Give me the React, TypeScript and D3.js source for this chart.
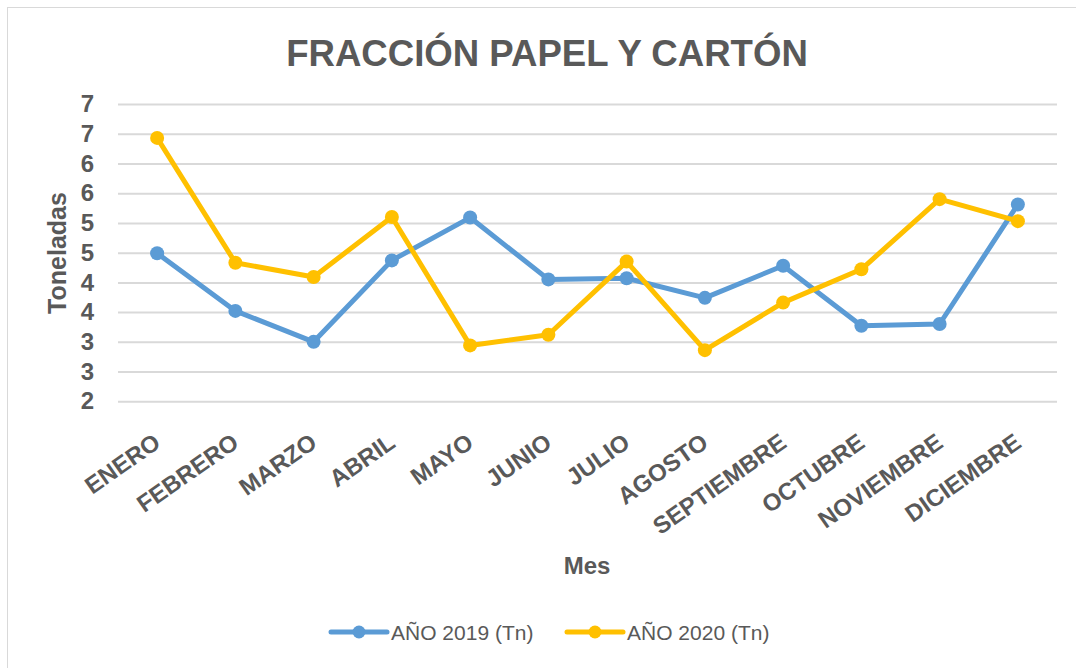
import React, { useEffect, useRef } from 'react';
import * as d3 from 'd3';

const months = ['ENERO', 'FEBRERO', 'MARZO', 'ABRIL', 'MAYO', 'JUNIO', 'JULIO', 'AGOSTO', 'SEPTIEMBRE', 'OCTUBRE', 'NOVIEMBRE', 'DICIEMBRE'];
const values2019 = [4.49, 3.52, 3.0, 4.37, 5.09, 4.05, 4.07, 3.74, 4.28, 3.27, 3.3, 5.31];
const values2020 = [6.43, 4.33, 4.09, 5.1, 2.94, 3.12, 4.35, 2.86, 3.66, 4.22, 5.4, 5.03];
const yTicks = [2, 2.5, 3, 3.5, 4, 4.5, 5, 5.5, 6, 6.5, 7];
const yTickLabels = ['2', '3', '3', '4', '4', '5', '5', '6', '6', '7', '7'];
const seriesNames = ['AÑO 2019 (Tn)', 'AÑO 2020 (Tn)'];

const TEXT = '#595959';
const GRID = '#D9D9D9';
const COLORS = ['#5B9BD5', '#FFC000'];
const FONT = '"Liberation Sans", Arial, sans-serif';

const App = () => {
  const ref = useRef<SVGSVGElement | null>(null);

  useEffect(() => {
    if (!ref.current) return;
    const svg = d3.select(ref.current);
    svg.selectAll('*').remove();

    // chart frame (only top/left edges visible in the crop)
    svg.append('rect')
      .attr('x', 7.5).attr('y', 7.5)
      .attr('width', 1200).attr('height', 800)
      .attr('fill', '#fff')
      .attr('stroke', GRID);

    const x = d3.scaleBand().domain(months).range([118, 1057]).padding(0);
    const cx = (m: string) => (x(m) as number) + x.bandwidth() / 2;
    const y = d3.scaleLinear().domain([2, 7]).range([401.3, 104]);

    // title
    svg.append('text')
      .attr('x', 547).attr('y', 66)
      .attr('text-anchor', 'middle')
      .style('font-family', FONT)
      .style('font-size', '36.6px')
      .style('font-weight', 'bold')
      .attr('fill', TEXT)
      .text('FRACCIÓN PAPEL Y CARTÓN');

    // gridlines + y labels
    const yAxis = d3.axisLeft(y)
      .tickValues(yTicks)
      .tickSize(-(1057 - 118))
      .tickPadding(24)
      .tickFormat((d, i) => yTickLabels[i]);
    const ga = svg.append('g').attr('transform', 'translate(118,0)').call(yAxis);
    ga.select('.domain').remove();
    ga.selectAll('.tick line').attr('stroke', GRID).attr('stroke-width', 2);
    ga.selectAll('.tick text')
      .attr('fill', TEXT)
      .style('font-family', FONT)
      .style('font-size', '24px')
      .style('font-weight', 'bold');

    // x labels
    svg.append('g')
      .selectAll('text')
      .data(months)
      .enter()
      .append('text')
      .attr('transform', d => `translate(${cx(d) + 5},446) rotate(-35)`)
      .attr('text-anchor', 'end')
      .style('font-family', FONT)
      .style('font-size', '24px')
      .style('font-weight', 'bold')
      .attr('fill', TEXT)
      .text(d => d);

    // axis titles
    svg.append('text')
      .attr('transform', 'translate(66,253) rotate(-90)')
      .attr('text-anchor', 'middle')
      .style('font-family', FONT)
      .style('font-size', '25px')
      .style('font-weight', 'bold')
      .attr('fill', TEXT)
      .text('Toneladas');

    svg.append('text')
      .attr('x', 587).attr('y', 574)
      .attr('text-anchor', 'middle')
      .style('font-family', FONT)
      .style('font-size', '24px')
      .style('font-weight', 'bold')
      .attr('fill', TEXT)
      .text('Mes');

    // series
    const line = d3.line<number>()
      .x((d, i) => cx(months[i]))
      .y(d => y(d));

    [values2019, values2020].forEach((vals, si) => {
      svg.append('path')
        .datum(vals)
        .attr('d', line)
        .attr('fill', 'none')
        .attr('stroke', COLORS[si])
        .attr('stroke-width', 5)
        .attr('stroke-linejoin', 'round');
      svg.append('g')
        .selectAll('circle')
        .data(vals)
        .enter()
        .append('circle')
        .attr('cx', (d, i) => cx(months[i]))
        .attr('cy', d => y(d))
        .attr('r', 7)
        .attr('fill', COLORS[si]);
    });

    // legend
    const legendX = [331, 567];
    seriesNames.forEach((name, i) => {
      const g = svg.append('g').attr('transform', `translate(${legendX[i]},632)`);
      g.append('line')
        .attr('x1', 0).attr('x2', 56)
        .attr('stroke', COLORS[i])
        .attr('stroke-width', 5)
        .attr('stroke-linecap', 'round');
      g.append('circle').attr('cx', 28).attr('r', 6.5).attr('fill', COLORS[i]);
      g.append('text')
        .attr('x', 60).attr('y', 7.5)
        .style('font-family', FONT)
        .style('font-size', '21px')
        .attr('fill', TEXT)
        .text(name);
    });
  }, []);

  return (
    <svg
      ref={ref}
      width={1076}
      height={668}
      style={{ position: 'fixed', left: 0, top: 0, background: '#fff' }}
    />
  );
};

export default App;
